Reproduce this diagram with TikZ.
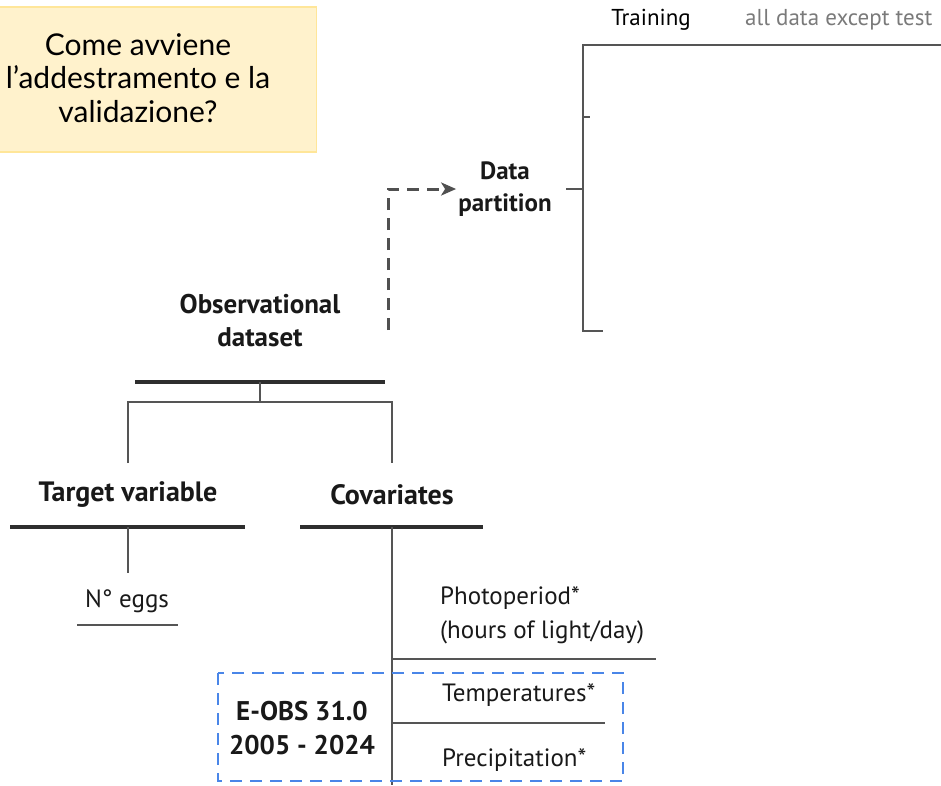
\documentclass[tikz,border=0pt]{standalone}
\usepackage{fontspec}
\setmainfont{PT Sans}
\newfontfamily\boxfont{Lato}
\usetikzlibrary{arrows.meta}
\definecolor{lgray}{HTML}{555555}
\definecolor{dgray}{HTML}{2E2E2E}
\definecolor{boxfill}{HTML}{FFF2CC}
\definecolor{boxline}{HTML}{FFE699}
\definecolor{eblue}{HTML}{4A86E8}
\definecolor{txtgray}{HTML}{7A7A7A}
\definecolor{dashgray}{HTML}{505050}
\begin{document}
\begin{tikzpicture}[x=1pt,y=-1pt,
  conn/.style={draw=lgray, line width=2pt},
  bar/.style={draw=dgray, line width=4.5pt},
  hd/.style={font=\fontsize{27}{33}\selectfont\bfseries, align=center, inner sep=0pt, text=black!90},
  lbl/.style={font=\fontsize{25}{34}\selectfont, align=left, anchor=west, inner sep=0pt, text=black!90},
  qbox/.style={draw=boxline, fill=boxfill, line width=1.5pt, minimum width=318pt, minimum height=145pt, inner sep=0pt},
  qtext/.style={font=\boxfont\fontsize{30}{33.5}\selectfont, align=center, inner sep=0pt},
  dasharrow/.style={draw=dashgray, line width=3pt, dash pattern=on 12pt off 8pt, -{Stealth[length=15pt,width=13pt,inset=4pt]}},
  eobsbox/.style={draw=eblue, line width=2.5pt, dash pattern=on 12pt off 8pt}
]
\useasboundingbox (0,0) rectangle (941,785);

% question box
\node[qbox] (qb) at (157.5,79.5) {};
\node[qtext] (qt) at (138,78) {Come avviene\\l’addestramento e la\\validazione?};

% data partition
\node[hd, font=\fontsize{25}{32}\selectfont\bfseries] (dp) at (505,189) {Data\\partition};
\coordinate (dstart) at (388,330);
\draw[dasharrow] (dstart) |- ([xshift=-2pt]dp.west);

\coordinate (dpr) at (566,188);
\coordinate (vtop) at (583,45);
\coordinate (vbot) at (583,331);
\coordinate (topr) at (941,45);
\draw[conn] (dp.east -| dpr) -- (dp.east -| vtop);
\draw[conn] (topr) -- (vtop) -- (vbot) -- ++(20,0);
\draw[conn] (583,117) -- ++(7,0);

\node[font=\fontsize{23}{25}\selectfont, text=black, inner sep=0pt] (train) at (651,20) {Training};
\node[font=\fontsize{23}{25}\selectfont, text=txtgray, inner sep=0pt, anchor=west] (alld) at (745,20) {all data except test};

% observational dataset
\node[hd] (obs) at (260,321) {Observational\\dataset};
\coordinate (obl) at (135,382);
\coordinate (obr) at (385,382);
\draw[bar] (obl) -- (obr);
\coordinate (obm) at (260,382);
\coordinate (split) at (260,402);
\draw[conn] (obm) -- (split);

\node[hd, font=\fontsize{28}{33}\selectfont\bfseries] (tv) at (128,495) {Target variable};
\node[hd, font=\fontsize{28}{33}\selectfont\bfseries] (cov) at (392,495) {Covariates};
\draw[conn] (tv.north |- 0,463) -- (tv.north |- split) -- (cov.north |- split) -- (cov.north |- 0,463);

\coordinate (tvl) at (10,527);
\coordinate (tvr) at (245,527);
\coordinate (cvl) at (300,527);
\coordinate (cvr) at (483,527);
\draw[bar] (tvl) -- (tvr);
\draw[bar] (cvl) -- (cvr);

\node[font=\fontsize{25}{26}\selectfont, text=black!90, inner sep=0pt] (eggs) at (127,601) {N° eggs};
\draw[conn] (128,527) -- (128,573);
\draw[conn] (77,625) -- (178,625);

% covariates
\coordinate (cvtop) at (392,527);
\coordinate (cvbot) at (392,785);
\draw[conn] (cvtop) -- (cvbot);
\node[lbl] (photo) at (440,615) {Photoperiod*\\(hours of light/day)};
\draw[conn] (392,659) -- (656,659);
\node[lbl] (temp) at (442,695) {Temperatures*};
\draw[conn] (392,723) -- (605,723);
\node[lbl] (prec) at (442,760) {Precipitation*};

% E-OBS box
\draw[eobsbox] (218,673) rectangle (623,781);
\node[hd, font=\fontsize{27}{34}\selectfont\bfseries] (eobs) at (302,728) {E-OBS 31.0\\2005 - 2024};
\end{tikzpicture}
\end{document}
